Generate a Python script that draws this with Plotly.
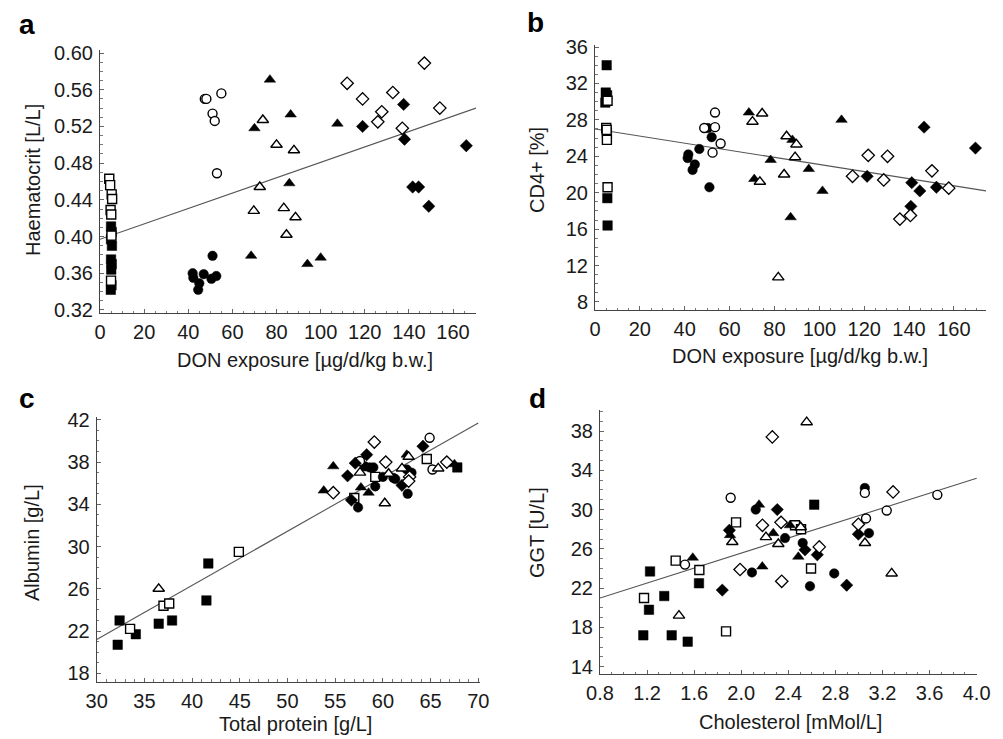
import plotly.graph_objects as go

# page body has an 8 px margin: the figure is drawn 8 px in from the corner
OFF = 8
W, H = 1003 - OFF, 739 - OFF

# ---------------- Panel a : Haematocrit vs DON exposure ----------------
a_sqf_x = [5.0, 5.3, 5.0, 5.4, 5.0, 5.3, 5.1, 5.2, 4.9]
a_sqf_y = [0.411, 0.405, 0.397, 0.390, 0.375, 0.370, 0.364, 0.347, 0.342]
a_sqo_x = [4.2, 4.6, 5.3, 5.5, 4.8, 5.1, 5.2, 5.0]
a_sqo_y = [0.463, 0.456, 0.446, 0.441, 0.429, 0.424, 0.401, 0.352]
a_cif_x = [51.0, 42.0, 42.3, 45.0, 44.5, 47.0, 50.5, 52.7]
a_cif_y = [0.379, 0.360, 0.355, 0.349, 0.342, 0.359, 0.354, 0.357]
a_cio_x = [47.5, 48.2, 55.0, 51.0, 52.0, 53.0]
a_cio_y = [0.550, 0.550, 0.556, 0.534, 0.526, 0.469]
a_trf_x = [77.0, 86.4, 70.0, 107.6, 85.8, 68.5, 94.0, 100.0]
a_trf_y = [0.571, 0.533, 0.518, 0.523, 0.458, 0.379, 0.370, 0.377]
a_tro_x = [73.8, 80.0, 87.9, 72.4, 69.7, 83.3, 88.6, 84.5]
a_tro_y = [0.527, 0.500, 0.494, 0.454, 0.428, 0.431, 0.421, 0.402]
a_dif_x = [137.6, 119.0, 138.0, 166.0, 141.7, 144.4, 149.0]
a_dif_y = [0.544, 0.520, 0.506, 0.499, 0.454, 0.454, 0.433]
a_dio_x = [112.0, 119.0, 132.7, 147.0, 127.7, 125.9, 154.0, 137.0]
a_dio_y = [0.567, 0.550, 0.557, 0.589, 0.536, 0.525, 0.540, 0.518]
a_fit_x = [0.0, 170.4]
a_fit_y = [0.397, 0.540]
a_xticks = [0, 20, 40, 60, 80, 100, 120, 140, 160]
a_yticks = [0.32, 0.36, 0.40, 0.44, 0.48, 0.52, 0.56, 0.60]

# ---------------- Panel b : CD4+ vs DON exposure ----------------
b_sqf_x = [5.2, 4.8, 5.4, 5.0, 4.6, 5.3, 5.5, 5.6]
b_sqf_y = [34.0, 31.0, 30.7, 30.3, 29.9, 26.6, 19.4, 16.4]
b_sqo_x = [5.6, 5.0, 5.2, 5.3, 5.6]
b_sqo_y = [30.1, 27.1, 26.9, 25.8, 20.6]
b_cif_x = [50.3, 52.0, 46.5, 41.6, 41.3, 44.5, 43.5, 51.0]
b_cif_y = [27.1, 26.1, 24.8, 24.2, 23.8, 23.1, 22.5, 20.6]
b_cio_x = [53.5, 53.5, 48.7, 56.0, 52.4]
b_cio_y = [28.8, 27.2, 27.1, 25.4, 24.4]
b_trf_x = [68.6, 109.9, 88.0, 78.3, 95.3, 71.0, 101.4, 87.2]
b_trf_y = [28.8, 28.0, 25.8, 23.6, 22.6, 21.5, 20.2, 17.3]
b_tro_x = [74.5, 70.2, 85.4, 89.8, 89.2, 84.3, 73.5, 81.7]
b_tro_y = [28.7, 27.8, 26.2, 25.3, 23.9, 22.0, 21.2, 10.7]
b_dif_x = [146.7, 169.6, 121.3, 141.2, 144.8, 152.2, 140.8]
b_dif_y = [27.2, 24.9, 21.8, 21.1, 20.2, 20.6, 18.5]
b_dio_x = [121.8, 130.4, 114.8, 128.7, 150.2, 157.7, 135.9, 140.6]
b_dio_y = [24.1, 24.0, 21.8, 21.4, 22.4, 20.5, 17.1, 17.5]
b_fit_x = [0.0, 174.3]
b_fit_y = [27.0, 20.2]
b_xticks = [0, 20, 40, 60, 80, 100, 120, 140, 160]
b_yticks = [8, 12, 16, 20, 24, 28, 32, 36]

# ---------------- Panel c : Albumin vs Total protein ----------------
c_sqf_x = [32.4, 32.2, 34.1, 36.5, 37.9, 41.5, 41.7, 67.8]
c_sqf_y = [23.0, 20.7, 21.7, 22.7, 23.0, 24.9, 28.4, 37.5]
c_sqo_x = [33.5, 37.0, 37.6, 44.9, 64.6, 57.0, 59.2]
c_sqo_y = [22.2, 24.4, 24.6, 29.5, 38.3, 34.6, 36.6]
c_cif_x = [57.4, 59.2, 61.3, 62.6, 63.0, 58.6, 59.0, 58.1, 60.0, 61.1, 62.5]
c_cif_y = [33.7, 35.7, 36.4, 35.0, 37.0, 37.5, 37.5, 37.6, 36.6, 36.5, 37.3]
c_cio_x = [57.6, 65.2, 64.9]
c_cio_y = [38.1, 37.3, 40.3]
c_trf_x = [54.8, 53.8, 57.7, 58.5, 62.5, 67.5]
c_trf_y = [37.6, 35.3, 35.6, 35.1, 38.7, 37.8]
c_tro_x = [36.5, 57.6, 60.2, 62.0, 62.7, 65.8, 60.6]
c_tro_y = [26.0, 37.0, 34.1, 37.4, 38.5, 37.4, 36.9]
c_dif_x = [58.3, 57.1, 56.3, 56.7, 62.0, 64.2]
c_dif_y = [38.7, 37.9, 36.7, 34.4, 35.8, 39.5]
c_dio_x = [59.1, 54.8, 60.3, 62.8, 62.7, 66.7]
c_dio_y = [39.9, 35.1, 38.0, 36.6, 36.2, 38.0]
c_fit_x = [30.0, 70.0]
c_fit_y = [21.2, 41.7]
c_xticks = [30, 35, 40, 45, 50, 55, 60, 65, 70]
c_yticks = [18, 22, 26, 30, 34, 38, 42]

# ---------------- Panel d : GGT vs Cholesterol ----------------
d_sqf_x = [1.225, 1.346, 1.216, 1.168, 1.409, 1.545, 1.641, 2.62]
d_sqf_y = [23.7, 21.2, 19.8, 17.2, 17.2, 16.55, 22.5, 30.5]
d_sqo_x = [1.174, 1.443, 1.644, 1.871, 1.956, 2.457, 2.508, 2.593]
d_sqo_y = [21.0, 24.8, 23.85, 17.6, 28.7, 28.4, 28.0, 24.0]
d_cif_x = [2.123, 2.372, 2.522, 2.091, 2.79, 2.584, 3.085, 3.05]
d_cif_y = [30.0, 27.1, 26.6, 23.6, 23.5, 22.2, 27.6, 32.2]
d_cio_x = [1.522, 1.91, 3.05, 3.06, 3.236, 3.666]
d_cio_y = [24.4, 31.2, 31.7, 29.1, 29.9, 31.5]
d_trf_x = [1.588, 1.905, 2.151, 2.272, 2.414, 2.485, 2.179]
d_trf_y = [25.1, 27.4, 30.5, 27.6, 28.4, 25.2, 24.2]
d_tro_x = [1.471, 1.924, 2.556, 2.21, 2.315, 2.505, 3.051, 3.278]
d_tro_y = [19.2, 26.7, 38.9, 27.2, 26.5, 28.2, 26.6, 23.5]
d_dif_x = [1.839, 1.899, 2.306, 2.542, 2.646, 2.995, 2.896]
d_dif_y = [21.8, 27.9, 30.0, 25.9, 25.4, 27.5, 22.3]
d_dio_x = [1.99, 2.264, 2.18, 2.338, 2.663, 2.344, 2.995, 3.29]
d_dio_y = [23.9, 37.4, 28.4, 28.7, 26.2, 22.7, 28.5, 31.8]
d_fit_x = [0.8, 4.0]
d_fit_y = [21.0, 33.2]
d_xticks = [0.8, 1.2, 1.6, 2.0, 2.4, 2.8, 3.2, 3.6, 4.0]
d_yticks = [14, 18, 22, 26, 30, 34, 38]

FONT = "Liberation Sans, Arial, Helvetica, sans-serif"
TXT = "#1a1a1a"
FS = 20

fig = go.Figure()

STYLES = {
    "sqf": dict(symbol="square", size=9.5, color="black", line=dict(color="black", width=0.5)),
    "sqo": dict(symbol="square", size=9, color="white", line=dict(color="black", width=1.4)),
    "cif": dict(symbol="circle", size=9.5, color="black", line=dict(color="black", width=0.5)),
    "cio": dict(symbol="circle", size=9, color="white", line=dict(color="black", width=1.4)),
    "trf": dict(symbol="triangle-up", size=10, color="black", line=dict(color="black", width=0.5)),
    "tro": dict(symbol="triangle-up", size=10, color="white", line=dict(color="black", width=1.4)),
    "dif": dict(symbol="diamond", size=9.5, color="black", line=dict(color="black", width=0.5)),
    "dio": dict(symbol="diamond", size=9.5, color="white", line=dict(color="black", width=1.3)),
}

panels = {
    "a": dict(ax="", groups=[
        ("sqf", a_sqf_x, a_sqf_y), ("sqo", a_sqo_x, a_sqo_y),
        ("cif", a_cif_x, a_cif_y), ("cio", a_cio_x, a_cio_y),
        ("trf", a_trf_x, a_trf_y), ("tro", a_tro_x, a_tro_y),
        ("dif", a_dif_x, a_dif_y), ("dio", a_dio_x, a_dio_y)],
        fit=(a_fit_x, a_fit_y)),
    "b": dict(ax="2", groups=[
        ("sqf", b_sqf_x, b_sqf_y), ("sqo", b_sqo_x, b_sqo_y),
        ("cif", b_cif_x, b_cif_y), ("cio", b_cio_x, b_cio_y),
        ("trf", b_trf_x, b_trf_y), ("tro", b_tro_x, b_tro_y),
        ("dif", b_dif_x, b_dif_y), ("dio", b_dio_x, b_dio_y)],
        fit=(b_fit_x, b_fit_y)),
    "c": dict(ax="3", groups=[
        ("sqf", c_sqf_x, c_sqf_y), ("sqo", c_sqo_x, c_sqo_y),
        ("cif", c_cif_x, c_cif_y), ("cio", c_cio_x, c_cio_y),
        ("trf", c_trf_x, c_trf_y), ("tro", c_tro_x, c_tro_y),
        ("dif", c_dif_x, c_dif_y), ("dio", c_dio_x, c_dio_y)],
        fit=(c_fit_x, c_fit_y)),
    "d": dict(ax="4", groups=[
        ("sqf", d_sqf_x, d_sqf_y), ("sqo", d_sqo_x, d_sqo_y),
        ("cif", d_cif_x, d_cif_y), ("cio", d_cio_x, d_cio_y),
        ("trf", d_trf_x, d_trf_y), ("tro", d_tro_x, d_tro_y),
        ("dif", d_dif_x, d_dif_y), ("dio", d_dio_x, d_dio_y)],
        fit=(d_fit_x, d_fit_y)),
}

for key, p in panels.items():
    xa, ya = "x" + p["ax"], "y" + p["ax"]
    fx, fy = p["fit"]
    fig.add_trace(go.Scatter(x=fx, y=fy, mode="lines", xaxis=xa, yaxis=ya,
                             line=dict(color="#555555", width=1.1),
                             showlegend=False, hoverinfo="skip"))
    for gname, gx, gy in p["groups"]:
        st = STYLES[gname]
        fig.add_trace(go.Scatter(x=gx, y=gy, mode="markers", xaxis=xa, yaxis=ya,
                                 marker=dict(symbol=st["symbol"], size=st["size"],
                                             color=st["color"], line=st["line"]),
                                 showlegend=False))


def px2fx(px):
    return (px - OFF) / W


def py2fy(py):
    return 1 - (py - OFF) / H


def axis(domain, rng, tickvals, ticktext, minor_dtick, is_x, anchor):
    d = dict(
        domain=domain, range=rng, tickmode="array", tickvals=tickvals, ticktext=ticktext,
        showgrid=False, zeroline=False, showline=True, linecolor="#444444", linewidth=1,
        ticks="inside", ticklen=4, tickcolor="#666666", tickwidth=1,
        tickfont=dict(family=FONT, size=FS, color=TXT),
        minor=dict(ticks="inside", ticklen=2.5, tickcolor="#777777", dtick=minor_dtick,
                   tick0=0, showgrid=False),
        anchor=anchor, fixedrange=True, automargin=False,
        ticklabelstandoff=1 if is_x else 2,
    )
    return d


layout_axes = {}
# panel a
layout_axes["xaxis"] = axis([px2fx(100), px2fx(476)], [0, 170.4], a_xticks,
                            [str(v) for v in a_xticks], 5, True, "y")
layout_axes["yaxis"] = axis([py2fy(313), py2fy(50)], [0.3167, 0.6033], a_yticks,
                            ["%.2f" % v for v in a_yticks], 0.01, False, "x")
# panel b
layout_axes["xaxis2"] = axis([px2fx(595), px2fx(986)], [0, 174.3], b_xticks,
                             [str(v) for v in b_xticks], 5, True, "y2")
layout_axes["yaxis2"] = axis([py2fy(310), py2fy(45)], [7.12, 36.22], b_yticks,
                             [str(v) for v in b_yticks], 1, False, "x2")
# panel c
layout_axes["xaxis3"] = axis([px2fx(96.7), px2fx(480)], [30, 70.18], c_xticks,
                             [str(v) for v in c_xticks], 1, True, "y3")
layout_axes["yaxis3"] = axis([py2fy(681.7), py2fy(416.7)], [17.2, 42.3], c_yticks,
                             [str(v) for v in c_yticks], 1, False, "x3")
# panel d
layout_axes["xaxis4"] = axis([px2fx(600), px2fx(977)], [0.8, 4.003], d_xticks,
                             ["%.1f" % v for v in d_xticks], 0.1, True, "y4")
layout_axes["yaxis4"] = axis([py2fy(674), py2fy(410)], [13.26, 40.14], d_yticks,
                             [str(v) for v in d_yticks], 1, False, "x4")

annotations = []


def text(x, y, s, size=FS, bold=False, angle=0):
    annotations.append(dict(
        x=px2fx(x), y=py2fy(y), xref="paper", yref="paper", text=("<b>%s</b>" % s) if bold else s,
        showarrow=False, xanchor="center", yanchor="middle", textangle=angle,
        font=dict(family=FONT, size=size, color="black" if bold else TXT)))


# panel letters
text(27, 24, "a", 28, True)
text(535, 22, "b", 28, True)
text(27, 398, "c", 28, True)
text(537, 398, "d", 28, True)
# axis titles
text(33, 180, "Haematocrit [L/L]", angle=-90)
text(305, 360, "DON exposure [µg/d/kg b.w.]")
text(537, 170, "CD4+ [%]", angle=-90)
text(800, 356, "DON exposure [µg/d/kg b.w.]")
text(32, 543, "Albumin [g/L]", angle=-90)
text(295, 724, "Total protein [g/L]")
text(537, 533, "GGT [U/L]", angle=-90)
text(790, 722, "Cholesterol [mMol/L]")

fig.update_layout(
    width=W, height=H, margin=dict(l=0, r=0, t=0, b=0, autoexpand=False),
    paper_bgcolor="white", plot_bgcolor="white",
    showlegend=False, annotations=annotations,
    font=dict(family=FONT, color=TXT),
    **layout_axes,
)

fig.write_html("out.html")
